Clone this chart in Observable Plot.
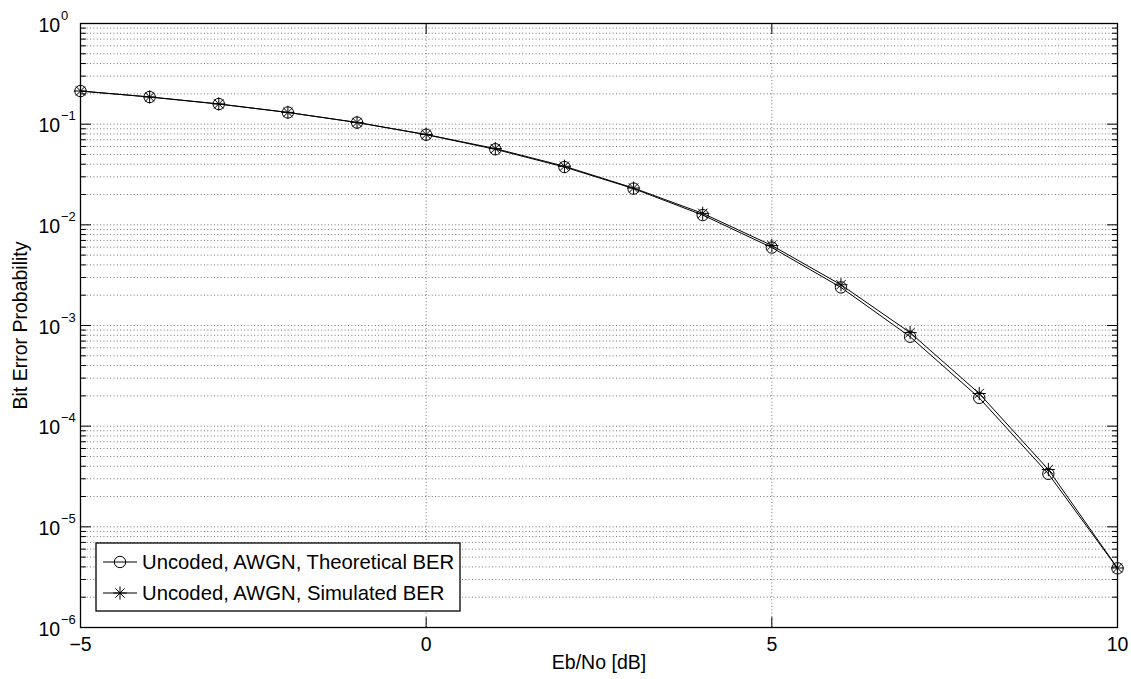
<!DOCTYPE html>
<html>
<head>
<meta charset="utf-8">
<script src="https://cdn.jsdelivr.net/npm/d3@7"></script>
<script src="https://cdn.jsdelivr.net/npm/@observablehq/plot@0.6"></script>
<style>
  html, body { margin: 0; padding: 0; background: #fff; }
  #chart svg { display: block; }
</style>
</head>
<body>
<div id="chart"></div>
<script>
// ---- data ----
const ebno = [-5, -4, -3, -2, -1, 0, 1, 2, 3, 4, 5, 6, 7, 8, 9, 10];
const berTheory = [0.2132, 0.1861, 0.1584, 0.1306, 0.1038, 0.0786, 0.0563, 0.0375, 0.0229, 0.0125, 0.00595, 0.00239, 0.000773, 0.000191, 3.36e-5, 3.87e-6];
const berSim    = [0.2135, 0.1864, 0.1589, 0.1309, 0.1040, 0.0790, 0.0572, 0.0382, 0.0232, 0.0130, 0.00624, 0.00254, 0.00085, 0.000211, 3.71e-5, 3.9e-6];

const xTicks = [-5, 0, 5, 10];
const xTickLabels = ["\u22125", "0", "5", "10"];
const yMajor = [1, 1e-1, 1e-2, 1e-3, 1e-4, 1e-5, 1e-6];
const yExponents = ["0", "\u22121", "\u22122", "\u22123", "\u22124", "\u22125", "\u22126"];
const yMinor = [];
for (const d of [1e-1, 1e-2, 1e-3, 1e-4, 1e-5, 1e-6]) for (let m = 2; m <= 9; m++) yMinor.push(+(m * d).toPrecision(3));

const seriesNames = ["Uncoded, AWGN, Theoretical BER", "Uncoded, AWGN, Simulated BER"];

const theory = ebno.map((x, i) => ({x, y: berTheory[i]}));
const sim = ebno.map((x, i) => ({x, y: berSim[i]}));

const FONT = "'Liberation Sans', Arial, Helvetica, sans-serif";
const FS = 19.5;

const tickShape = {draw(c, l) { c.moveTo(0, 0); c.lineTo(0, -l); }};
const starSymbol = {
  draw(c, size) {
    const r = Math.sqrt(size / Math.PI);
    const d = r * Math.SQRT1_2;
    c.moveTo(0, -r); c.lineTo(0, r);
    c.moveTo(-r, 0); c.lineTo(r, 0);
    c.moveTo(-d, -d); c.lineTo(d, d);
    c.moveTo(-d, d); c.lineTo(d, -d);
  }
};

const gridY = yMajor.concat(yMinor).filter(v => v < 1 && v > 1e-6);
const gridX = xTicks.filter(v => v > -5 && v < 10);
const dotted = {stroke: "#222", strokeWidth: 0.8, strokeOpacity: 0.8, strokeDasharray: "1,2.35"};

const tk = (data, opts) => Plot.vector(data, {anchor: "start", shape: tickShape, stroke: "black", strokeWidth: 1, ...opts});

const plot = Plot.plot({
  width: 1131,
  height: 679,
  marginLeft: 80,
  marginRight: 14,
  marginTop: 23,
  marginBottom: 52,
  style: {fontFamily: FONT, background: "white", color: "black"},
  x: {domain: [-5, 10], axis: null},
  y: {type: "log", domain: [1e-6, 1], axis: null},
  marks: [
    // grid
    Plot.ruleY(gridY, {y: d => d, x1: -5, x2: 10, ...dotted}),
    Plot.ruleX(gridX, {x: d => d, y1: 1e-6, y2: 1, ...dotted}),
    // inner ticks
    tk(yMajor, {x: -5, y: d => d, length: 10, rotate: 90}),
    tk(yMinor, {x: -5, y: d => d, length: 5, rotate: 90}),
    tk(yMajor, {x: 10, y: d => d, length: 10, rotate: -90}),
    tk(yMinor, {x: 10, y: d => d, length: 5, rotate: -90}),
    tk(xTicks, {x: d => d, y: 1e-6, length: 10, rotate: 0}),
    tk(xTicks, {x: d => d, y: 1, length: 10, rotate: 180}),
    // series
    Plot.line(theory, {x: "x", y: "y", stroke: "black", strokeWidth: 1}),
    Plot.line(sim, {x: "x", y: "y", stroke: "black", strokeWidth: 1}),
    Plot.dot(theory, {x: "x", y: "y", r: 5.7, stroke: "black", strokeWidth: 1, fill: "none"}),
    Plot.dot(sim, {x: "x", y: "y", r: 6.6, symbol: starSymbol, stroke: "black", strokeWidth: 1, fill: "none"}),
    // frame
    Plot.frame({stroke: "black", strokeWidth: 1.3}),
    // y tick labels 10^k
    Plot.text(yMajor, {x: -5, y: d => d, text: () => "10", textAnchor: "start", dx: -42, dy: 2, fontSize: FS}),
    Plot.text(yMajor, {x: -5, y: d => d, text: (d, i) => yExponents[i], textAnchor: "start", dx: -19.5, dy: -8, fontSize: 13}),
    // x tick labels
    Plot.text(xTicks, {x: d => d, y: 1e-6, text: (d, i) => xTickLabels[i], dy: 17, fontSize: FS}),
    // axis titles
    Plot.text(["Eb/No [dB]"], {frameAnchor: "bottom", text: d => d, textAnchor: "middle", lineAnchor: "middle", dy: 35.5, fontSize: FS}),
    Plot.text(["Bit Error Probability"], {frameAnchor: "left", text: d => d, textAnchor: "middle", lineAnchor: "middle", rotate: -90, dx: -60, fontSize: FS})
  ]
});

document.getElementById("chart").appendChild(plot);

// ---- legend (inside the axes, lower left) ----
const svg = d3.select(plot);
const lg = svg.append("g").attr("font-family", FONT).attr("text-anchor", "start");
lg.append("rect").attr("x", 96).attr("y", 543).attr("width", 364).attr("height", 68)
  .attr("fill", "white").attr("stroke", "black").attr("stroke-width", 1.3);
const rows = [562, 593];
rows.forEach((ry, i) => {
  lg.append("line").attr("x1", 103).attr("x2", 137).attr("y1", ry).attr("y2", ry)
    .attr("stroke", "black").attr("stroke-width", 1);
  if (i === 0) {
    lg.append("circle").attr("cx", 120).attr("cy", ry).attr("r", 5.7)
      .attr("fill", "none").attr("stroke", "black").attr("stroke-width", 1);
  } else {
    const p = d3.path();
    starSymbol.draw(p, Math.PI * 6.6 * 6.6);
    lg.append("path").attr("d", p.toString()).attr("transform", `translate(120,${ry})`)
      .attr("fill", "none").attr("stroke", "black").attr("stroke-width", 1);
  }
  lg.append("text").attr("x", 142).attr("y", ry).attr("dy", "0.35em")
    .attr("text-anchor", "start")
    .attr("font-size", 20.3).attr("fill", "black").text(seriesNames[i]);
});
</script>
</body>
</html>
